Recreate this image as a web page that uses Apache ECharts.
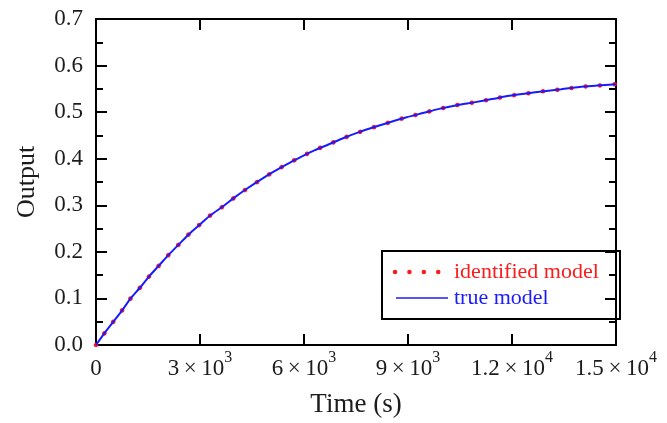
<!DOCTYPE html>
<html>
<head>
<meta charset="utf-8">
<script src="https://cdn.jsdelivr.net/npm/echarts@6/dist/echarts.min.js"></script>
<style>
  html, body { margin: 0; padding: 0; background: #fff; }
  #chart { width: 667px; height: 423px; }
</style>
</head>
<body>
<div id="chart"></div>
<script>
// Step response: time in seconds and output of the plant
const timeS = [0, 240, 500, 760, 1000, 1280, 1540, 1820, 2100, 2390, 2680, 3000, 3310, 3670, 4000, 4360, 4730, 5100, 5500, 5890, 6300, 6720, 7160, 7590, 8030, 8500, 8960, 9430, 9900, 10410, 10900, 11420, 11920, 12410, 12930, 13420, 13940, 14460, 15000];
const trueOutput = [0, 0.025, 0.050, 0.075, 0.100, 0.124, 0.148, 0.171, 0.194, 0.216, 0.238, 0.259, 0.279, 0.298, 0.317, 0.336, 0.354, 0.371, 0.388, 0.403, 0.418, 0.431, 0.445, 0.457, 0.468, 0.479, 0.489, 0.498, 0.507, 0.515, 0.521, 0.528, 0.535, 0.540, 0.545, 0.549, 0.554, 0.557, 0.560];
const identifiedOutput = [0, 0.025, 0.050, 0.075, 0.100, 0.124, 0.148, 0.171, 0.194, 0.216, 0.238, 0.259, 0.279, 0.298, 0.317, 0.336, 0.354, 0.371, 0.388, 0.403, 0.418, 0.431, 0.445, 0.457, 0.468, 0.479, 0.489, 0.498, 0.507, 0.515, 0.521, 0.528, 0.535, 0.540, 0.545, 0.549, 0.554, 0.557, 0.560];

const seriesNames = ['identified model', 'true model'];
const xTickValues = [0, 3000, 6000, 9000, 12000, 15000];
const xTickMantissa = ['0', '3', '6', '9', '1.2', '1.5'];
const xTickExponent = ['', '3', '3', '3', '4', '4'];
const yTickLabels = ['0.0', '0.1', '0.2', '0.3', '0.4', '0.5', '0.6', '0.7'];

const FONT = '"Liberation Serif", "DejaVu Serif", serif';
const TXT = '#1c1c1c';
const RED = '#ff1a1a';
const BLUE = '#1a1aff';

const pairs = (xs, ys) => xs.map((x, i) => [x, ys[i]]);

function xLabel(v) {
  const i = xTickValues.indexOf(v);
  if (i < 0) return '';
  if (!xTickExponent[i]) return '{b|' + xTickMantissa[i] + '}';
  return '{b|' + xTickMantissa[i] + '\u2009×\u200910}{s|' + xTickExponent[i] + '}';
}
function yLabel(v) {
  const i = Math.round(v * 10);
  return yTickLabels[i] !== undefined ? yTickLabels[i] : '';
}

const axisLine = { show: true, onZero: false, lineStyle: { color: '#000', width: 2 } };
const majorTick = { show: true, inside: true, length: 11, lineStyle: { color: '#000', width: 2 } };
const minorTick = { show: true, splitNumber: 2, length: 7, lineStyle: { color: '#000', width: 2 } };

const chart = echarts.init(document.getElementById('chart'), null, { renderer: 'canvas' });
chart.setOption({
  animation: false,
  backgroundColor: '#fff',
  grid: { left: 96, right: 51, top: 19, bottom: 78, containLabel: false },
  xAxis: [{
    type: 'value', min: 0, max: 15000, interval: 3000, position: 'bottom',
    name: 'Time (s)', nameLocation: 'middle', nameGap: 46,
    nameTextStyle: { fontFamily: FONT, fontSize: 27, color: TXT },
    axisLine, axisTick: majorTick, splitLine: { show: false },
    axisLabel: {
      margin: 5, formatter: xLabel, color: TXT,
      rich: {
        b: { fontFamily: FONT, fontSize: 23, color: TXT, lineHeight: 30, verticalAlign: 'bottom' },
        s: { fontFamily: FONT, fontSize: 16, color: TXT, lineHeight: 30, verticalAlign: 'top' }
      }
    }
  }, {
    type: 'value', min: 0, max: 15000, interval: 3000, position: 'top',
    axisLine, axisTick: majorTick, axisLabel: { show: false }, splitLine: { show: false }
  }],
  yAxis: [{
    type: 'value', min: 0, max: 0.7, interval: 0.1, position: 'left',
    name: 'Output', nameLocation: 'middle', nameGap: 56, nameRotate: 90,
    nameTextStyle: { fontFamily: FONT, fontSize: 26, color: TXT },
    axisLine, axisTick: majorTick, minorTick,
    splitLine: { show: false }, minorSplitLine: { show: false },
    axisLabel: { margin: 13, formatter: yLabel, fontFamily: FONT, fontSize: 23, color: TXT }
  }, {
    type: 'value', min: 0, max: 0.7, interval: 0.1, position: 'right',
    axisLine, axisTick: majorTick, minorTick,
    axisLabel: { show: false }, splitLine: { show: false }, minorSplitLine: { show: false }
  }],
  series: [{
    name: seriesNames[0], type: 'line', xAxisIndex: 0, yAxisIndex: 0,
    data: pairs(timeS, identifiedOutput), showSymbol: false, smooth: 0.3, z: 2,
    lineStyle: { color: RED, width: 4.5, type: [0.01, 14.4], cap: 'round' }
  }, {
    name: seriesNames[1], type: 'line', xAxisIndex: 0, yAxisIndex: 0,
    data: pairs(timeS, trueOutput), showSymbol: false, smooth: 0.3, z: 3,
    lineStyle: { color: BLUE, width: 2 }
  }],
  graphic: [{
    type: 'group', left: 381, top: 250, z: 100,
    children: [
      { type: 'rect', shape: { x: 0, y: 0, width: 238, height: 68 },
        style: { fill: '#fff', stroke: '#000', lineWidth: 2 } },
      { type: 'line', shape: { x1: 13, y1: 21, x2: 57, y2: 21 },
        style: { stroke: RED, lineWidth: 4.5, lineDash: [0.01, 14.4], lineCap: 'round' } },
      { type: 'text', style: { x: 72, y: 21, text: seriesNames[0], fill: RED,
        font: '22px ' + FONT, textVerticalAlign: 'middle' } },
      { type: 'line', shape: { x1: 14, y1: 47, x2: 66, y2: 47 },
        style: { stroke: BLUE, lineWidth: 1.5 } },
      { type: 'text', style: { x: 72, y: 47, text: seriesNames[1], fill: BLUE,
        font: '22px ' + FONT, textVerticalAlign: 'middle' } }
    ]
  }]
});
</script>
</body>
</html>
